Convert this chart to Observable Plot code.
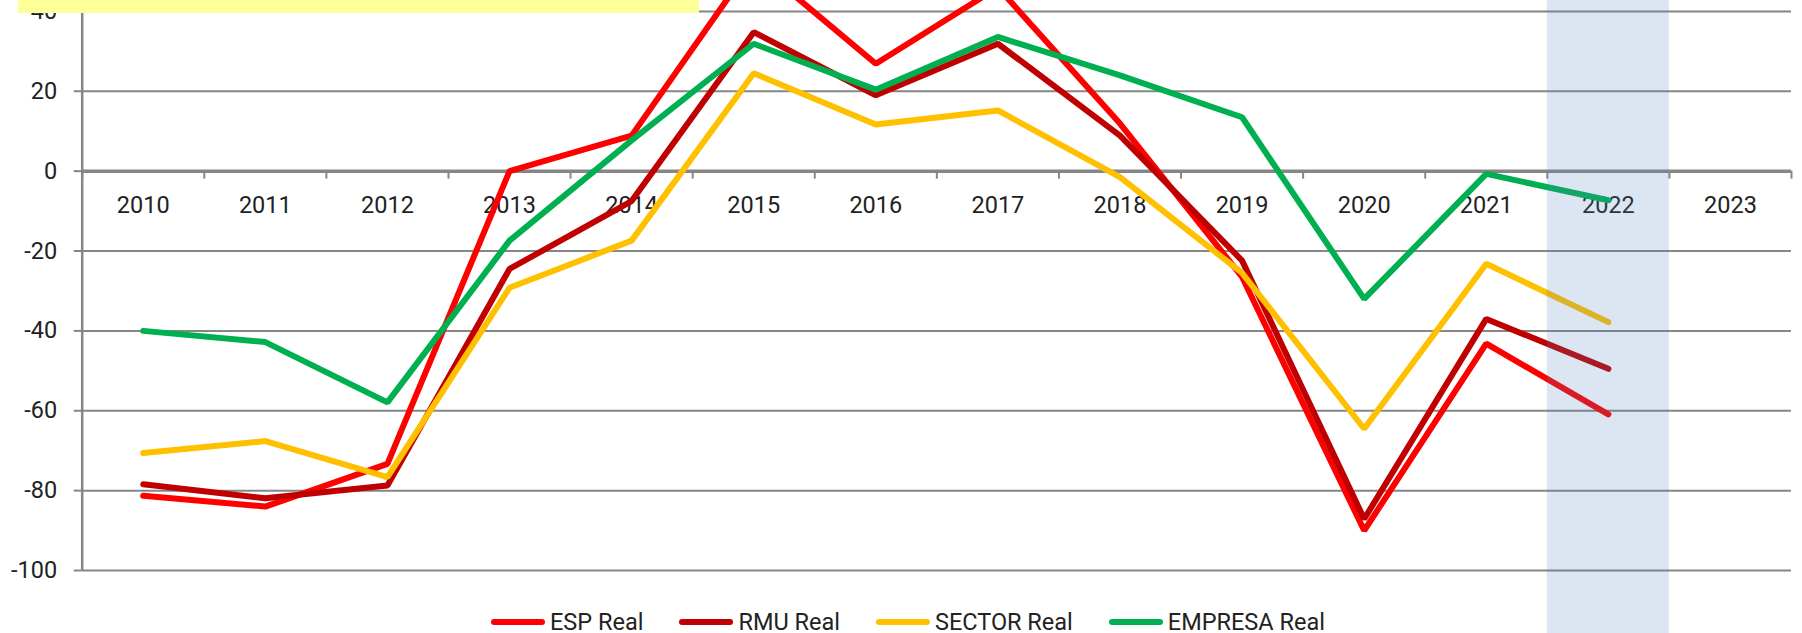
<!DOCTYPE html>
<html>
<head>
<meta charset="utf-8">
<script src="https://cdn.jsdelivr.net/npm/d3@7"></script>
<script src="https://cdn.jsdelivr.net/npm/@observablehq/plot@0.6"></script>
<style>
  html, body { margin: 0; padding: 0; background: #fff; overflow: hidden; }
  #wrap { position: relative; width: 1802px; height: 633px; }
  #titlebox { position: absolute; left: 18px; top: 0; width: 681px; height: 13px; background: #FFFF99; }
  #legend { position: absolute; left: 491px; top: 608px; display: flex; align-items: center;
            font-family: Roboto, "Liberation Sans", sans-serif; font-size: 23.5px; color: #222; line-height: 28px; white-space: nowrap; }
  .item { display: flex; align-items: center; margin-right: 36px; }
  .sw { width: 54px; height: 6px; border-radius: 3px; margin-right: 5px; }
</style>
</head>
<body>
<div id="wrap"></div>
<script>
// ---- data ----
const categories = [2010, 2011, 2012, 2013, 2014, 2015, 2016, 2017, 2018, 2019, 2020, 2021, 2022, 2023];
const years      = [2010, 2011, 2012, 2013, 2014, 2015, 2016, 2017, 2018, 2019, 2020, 2021, 2022];
const espReal     = [-81.3, -84.0, -73.3,   0.0,  8.9, 52.5, 26.9, 46.0, 11.9, -26.5, -90.0, -43.2, -60.9];
const rmuReal     = [-78.4, -81.9, -78.7, -24.5, -7.5, 34.8, 19.0, 31.9,  8.9, -22.4, -87.1, -37.0, -49.5];
const sectorReal  = [-70.6, -67.6, -76.6, -29.2, -17.4, 24.5, 11.7, 15.2, -1.5, -25.5, -64.5, -23.2, -37.8];
const empresaReal = [-40.0, -42.8, -57.9, -17.4,  7.7, 31.9, 20.4, 33.6, 24.0,  13.5, -32.0,  -0.7,  -7.3];
const seriesNames  = ["ESP Real", "RMU Real", "SECTOR Real", "EMPRESA Real"];
const seriesColors = ["#FF0000", "#C00000", "#FFC000", "#00B050"];
const yTicks = [-100, -80, -60, -40, -20, 0, 20, 40];
const highlightYear = 2022;

// ---- build table ----
const seriesValues = [espReal, rmuReal, sectorReal, empresaReal];
const table = seriesNames.flatMap((name, i) =>
  years.map((year, j) => ({series: name, year, value: seriesValues[i][j]})));
const boundaries = categories.map(c => c - 0.5).concat([categories[categories.length - 1] + 0.5]);

const W = 1802, H = 633;
const mTop = 10.9, mBottom = 63;
const yDomain = [-100, 40];
const pxPerUnit = (H - mTop - mBottom) / (yDomain[1] - yDomain[0]);
const yTopEdge = yDomain[1] + mTop / pxPerUnit;
const yBottomEdge = yDomain[0] - mBottom / pxPerUnit;

const grey = "#868686";
const chart = Plot.plot({
  width: W,
  height: H,
  marginLeft: 81.7,
  marginRight: 11,
  marginTop: mTop,
  marginBottom: mBottom,
  style: {fontFamily: "Roboto, 'Liberation Sans', sans-serif", fontSize: "23.5px", background: "transparent", overflow: "visible"},
  x: {type: "linear", domain: [categories[0] - 0.5, categories[categories.length - 1] + 0.5], axis: null},
  y: {domain: yDomain, axis: null},
  color: {domain: seriesNames, range: seriesColors},
  marks: [
    Plot.ruleY(yTicks.filter(t => t !== 0), {stroke: grey, strokeWidth: 2}),
    Plot.axisY({ticks: yTicks, tickSize: 8, tickPadding: 17, stroke: grey, strokeWidth: 2, color: "#222",
                fontSize: 23.5, label: null, tickFormat: d => String(d)}),
    Plot.ruleX([boundaries[0]], {stroke: grey, strokeWidth: 2.5}),
    Plot.ruleY([0], {stroke: grey, strokeWidth: 3.5}),
    Plot.ruleX(boundaries, {y1: 0, y2: -2, stroke: grey, strokeWidth: 2}),
    Plot.text(categories, {x: d => d, y: 0, dy: 34, text: d => String(d), fill: "#222", fontSize: 23.5}),
    Plot.line(table, {x: "year", y: "value", z: "series", stroke: "series", strokeWidth: 6,
                      strokeLinecap: "round", strokeLinejoin: "miter"}),
    Plot.rect([highlightYear], {x1: d => d - 0.5, x2: d => d + 0.5, y1: yBottomEdge, y2: yTopEdge,
                                fill: "#4F81BD", fillOpacity: 0.2})
  ]
});

const wrap = document.getElementById("wrap");
wrap.appendChild(chart);

const box = document.createElement("div");
box.id = "titlebox";
wrap.appendChild(box);

const legend = document.createElement("div");
legend.id = "legend";
seriesNames.forEach((name, i) => {
  const item = document.createElement("div");
  item.className = "item";
  const sw = document.createElement("div");
  sw.className = "sw";
  sw.style.background = seriesColors[i];
  const label = document.createElement("span");
  label.textContent = name;
  item.appendChild(sw);
  item.appendChild(label);
  legend.appendChild(item);
});
wrap.appendChild(legend);
</script>
</body>
</html>
